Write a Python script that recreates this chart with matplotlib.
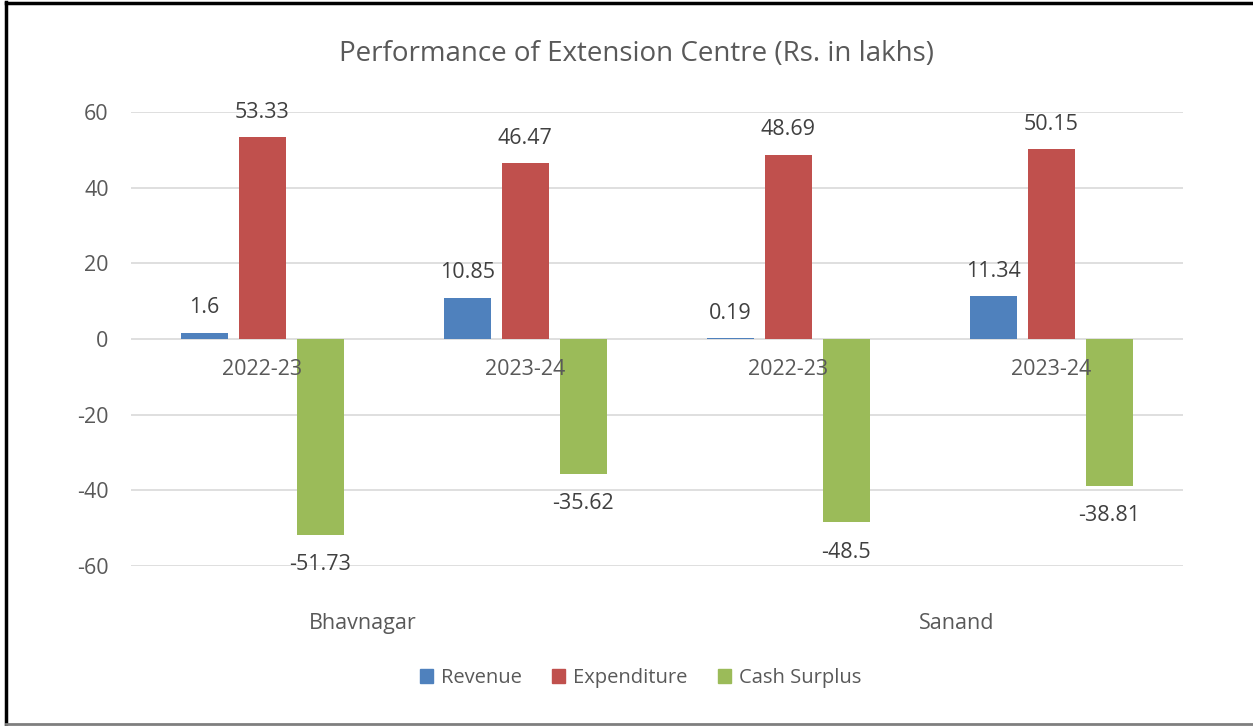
import numpy as np
import matplotlib.pyplot as plt
from matplotlib.lines import Line2D

# data (Rs. in lakhs)
centres = ["Bhavnagar", "Sanand"]
years = ["2022-23", "2023-24", "2022-23", "2023-24"]
revenue = [1.6, 10.85, 0.19, 11.34]
expenditure = [53.33, 46.47, 48.69, 50.15]
cash_surplus = [-51.73, -35.62, -48.5, -38.81]

series = [("Revenue", revenue, "#4F81BD"),
          ("Expenditure", expenditure, "#C0504D"),
          ("Cash Surplus", cash_surplus, "#9BBB59")]

txt = "#595959"
plt.rcParams["font.family"] = ["Open Sans", "DejaVu Sans"]
plt.rcParams["axes.unicode_minus"] = False
fs = 15.5

fig = plt.figure(figsize=(12.53, 7.26), dpi=100)
ax = fig.add_axes([0.1045, 0.2204, 0.8395, 0.6253])

x = np.arange(len(years))
width = 0.178
offsets = [-0.22, 0.0, 0.22]

for (name, vals, col), off in zip(series, offsets):
    bars = ax.bar(x + off, vals, width, color=col, label=name, zorder=3)
    for b, v in zip(bars, vals):
        dy = 18 if v >= 0 else -21.5
        ax.annotate(f"{v:g}", (b.get_x() + b.get_width() / 2, v),
                    xytext=(0, dy), textcoords="offset points",
                    ha="center", va="center", fontsize=fs, color="#404040")

ax.set_xlim(-0.5, len(years) - 0.5)
ax.set_ylim(-60, 60)
ax.set_yticks(range(-60, 61, 20))
ax.grid(axis="y", color="#D9D9D9", linewidth=1.2, zorder=0)
ax.set_axisbelow(True)
for s in ax.spines.values():
    s.set_visible(False)
ax.tick_params(axis="y", length=0, pad=16, labelsize=fs, labelcolor=txt)
ax.set_xticks([])

# year labels sit on the zero line
for xi, yr in zip(x, years):
    ax.annotate(yr, (xi, 0), xytext=(0, -22), textcoords="offset points",
                ha="center", va="center", fontsize=fs, color=txt, zorder=4)

# centre labels below the plot
for xc, name in zip([0.38, 2.64], centres):
    ax.annotate(name, (xc, -60), xytext=(0, -41.5), textcoords="offset points",
                ha="center", va="center", fontsize=fs, color=txt)

fig.text(0.508, 0.925, "Performance of Extension Centre (Rs. in lakhs)",
         ha="center", va="center", fontsize=20, color=txt)

handles = [plt.Rectangle((0, 0), 1, 1, color=c) for _, _, c in series]
fig.legend(handles, [n for n, _, _ in series], loc="center",
           bbox_to_anchor=(0.511, 0.066), ncol=3, frameon=False,
           fontsize=14.5, labelcolor=txt, handlelength=0.65, handleheight=0.65,
           handletextpad=0.4, columnspacing=1.5)

# outer frame lines
fig.add_artist(Line2D([0.0048, 0.0048], [0, 0.997], color="black", linewidth=2.5,
                      transform=fig.transFigure))
fig.add_artist(Line2D([0.0048, 1], [0.9955, 0.9955], color="black", linewidth=2.5,
                      transform=fig.transFigure))
fig.add_artist(Line2D([0.0048, 1], [0.0025, 0.0025], color="#7F7F7F", linewidth=2,
                      transform=fig.transFigure))

fig.savefig("out.png", dpi=100)
